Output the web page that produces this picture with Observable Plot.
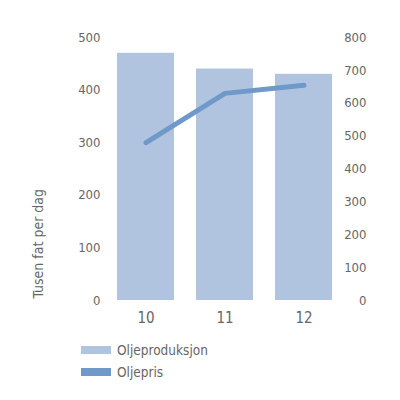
<!DOCTYPE html>
<html><head><meta charset="utf-8">
<script src="https://cdn.jsdelivr.net/npm/d3@7"></script>
<script src="https://cdn.jsdelivr.net/npm/@observablehq/plot@0.6"></script>
<style>
body{margin:0;background:#fff;font-family:"DejaVu Sans Condensed","Roboto",sans-serif;}
#legend{margin-left:81px;margin-top:4px;font-size:13.5px;color:#666;}
.row{display:flex;align-items:center;height:22px;}
.sw{width:30px;height:8px;margin-right:6px;}
</style></head>
<body><div id="chart"></div><div id="legend"></div>
<script>
const years = ["10", "11", "12"];
const production = [470, 440, 430];
const price = [480, 630, 655];
const leftTicks = [0, 100, 200, 300, 400, 500];
const rightTicks = [0, 100, 200, 300, 400, 500, 600, 700, 800];
const seriesNames = ["Oljeproduksjon", "Oljepris"];
const colors = ["#b0c4e0", "#6f99c8"];

const data = years.map((y, i) => ({year: y, prod: production[i], price: price[i]}));
const ratio = 500 / 800;
const gray = "#666";

const plot = Plot.plot({
  width: 400, height: 335,
  marginTop: 37, marginBottom: 35, marginLeft: 105, marginRight: 57,
  style: {fontFamily: '"DejaVu Sans Condensed", Roboto, sans-serif', color: gray},
  x: {domain: years, paddingInner: 0.28, paddingOuter: 0.14},
  y: {domain: [0, 500]},
  marks: [
    Plot.barY(data, {x: "year", y: "prod", fill: colors[0]}),
    Plot.line(data, {x: "year", y: d => d.price * ratio, stroke: colors[1], strokeWidth: 5, strokeLinecap: "round"}),
    Plot.axisY(leftTicks, {anchor: "left", tickSize: 0, tickPadding: 5, fontSize: 13, fill: gray, label: null}),
    Plot.axisY(rightTicks.map(t => t * ratio), {anchor: "right", tickSize: 0, tickPadding: 23, textAnchor: "end", tickFormat: v => String(Math.round(v / ratio)), fontSize: 13, fill: gray, label: null}),
    Plot.axisX({tickSize: 0, tickPadding: 12, fontSize: 15, fill: gray, label: null}),
    Plot.text(["Tusen fat per dag"], {frameAnchor: "bottom-left", dx: -63, dy: -2, rotate: -90, textAnchor: "start", fontSize: 14, fill: gray})
  ]
});
document.getElementById("chart").appendChild(plot);

const leg = document.getElementById("legend");
seriesNames.forEach((n, i) => {
  const r = document.createElement("div"); r.className = "row";
  const s = document.createElement("div"); s.className = "sw"; s.style.background = colors[i];
  const t = document.createElement("span"); t.textContent = n;
  r.appendChild(s); r.appendChild(t); leg.appendChild(r);
});
</script></body></html>
